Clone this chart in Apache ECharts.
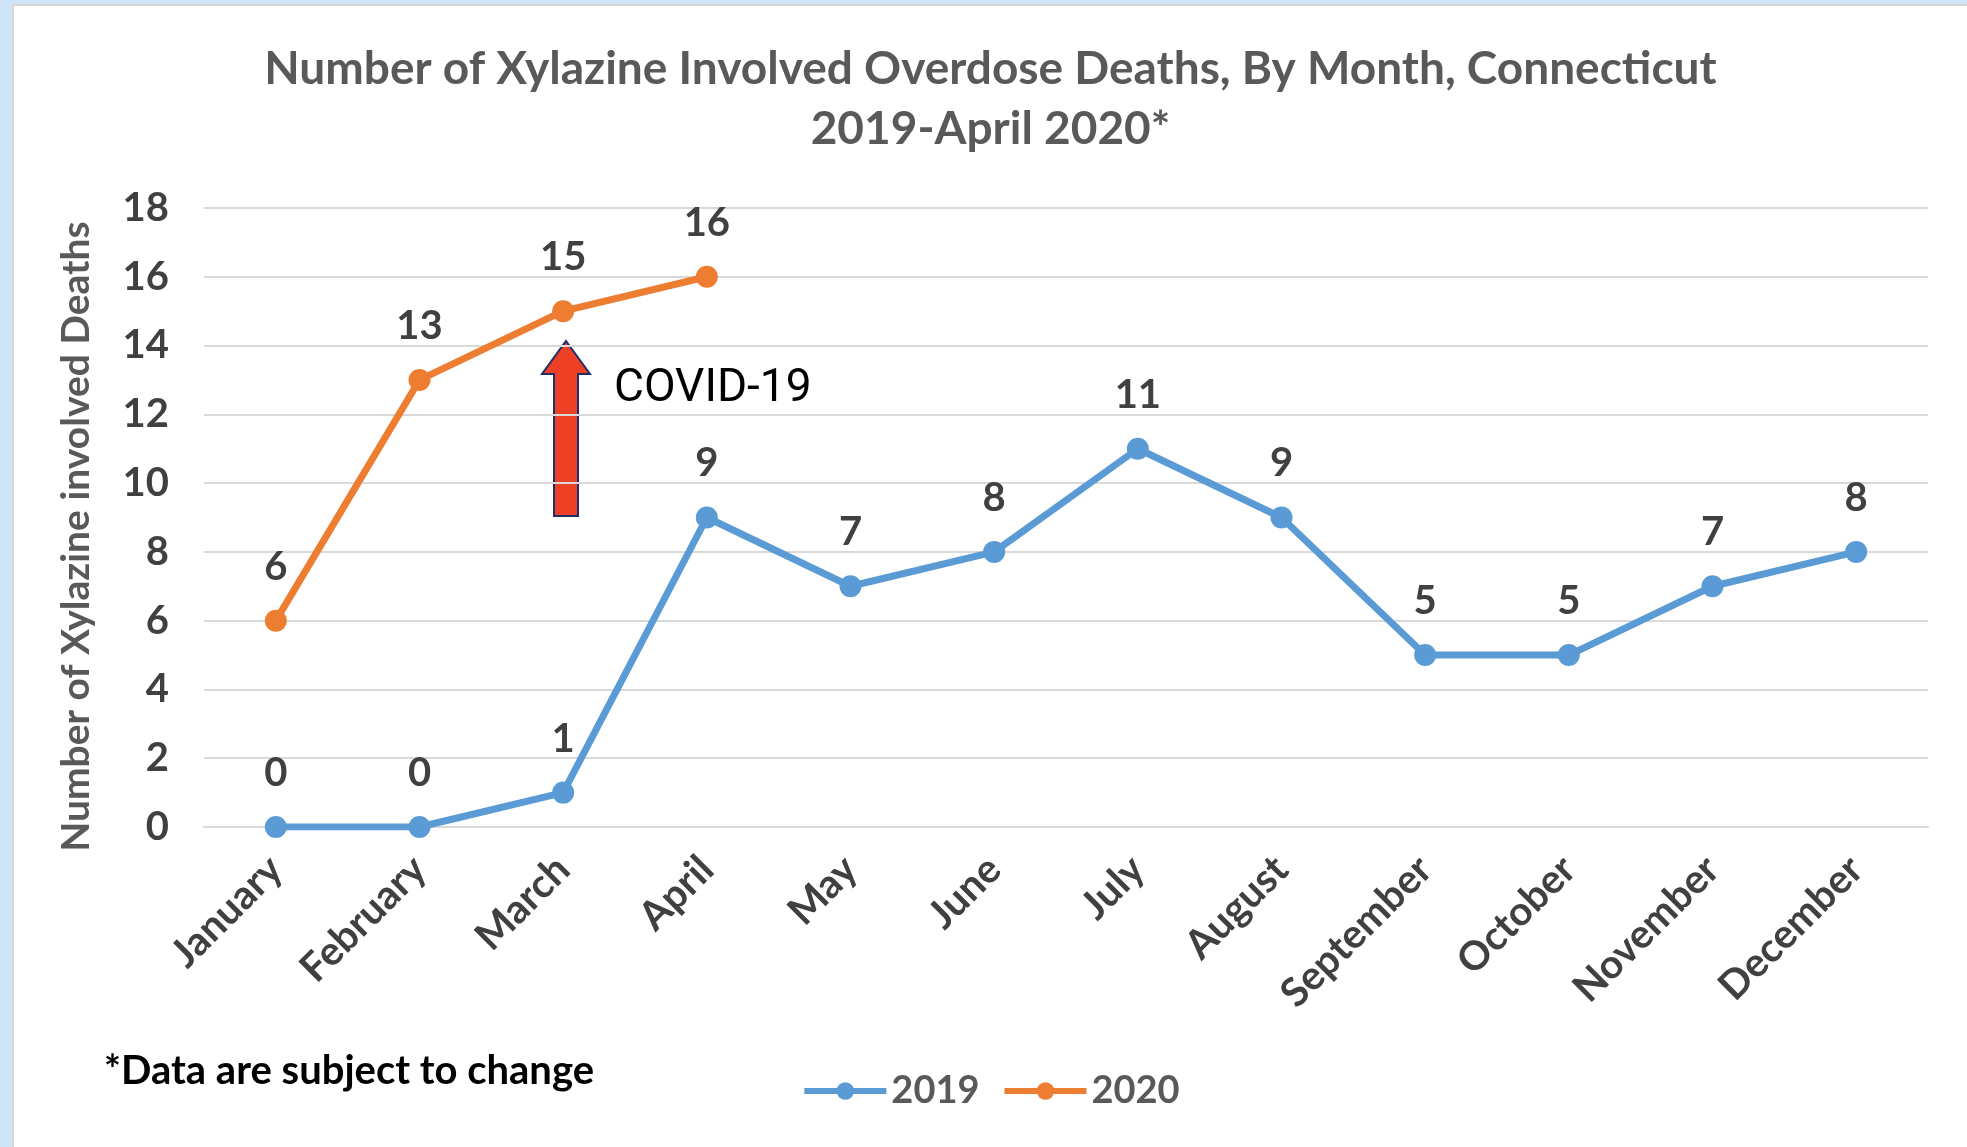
<!DOCTYPE html>
<html lang="en">
<head>
    <meta charset="UTF-8">
    <title>Xylazine</title>
    <script src="https://cdn.jsdelivr.net/npm/echarts@6/dist/echarts.min.js"></script>
    <style>
        body { margin: 0; background: #cfe5f7; }
        #main { position: absolute; left: 12px; top: 4px; width: 1955px; height: 1143px; background: #fff;
                border-left: 2px solid #d6d6d6; border-top: 2px solid #d6d6d6; box-sizing: border-box; }
    </style>
</head>
<body>
<div id="main"></div>
<script>
    var months = ['January', 'February', 'March', 'April', 'May', 'June', 'July',
        'August', 'September', 'October', 'November', 'December'];
    var deaths2019 = [0, 0, 1, 9, 7, 8, 11, 9, 5, 5, 7, 8];
    var deaths2020 = [6, 13, 15, 16];

    var myChart = echarts.init(document.getElementById('main'));

    var labelFont = {fontFamily: 'Lato', fontWeight: 'bold', fontSize: 40, color: '#404040'};

    // 箭头 (COVID-19), 坐标相对于 div
    var arrow = [[552, 335], [576, 368], [564, 368], [564, 510], [540, 510], [540, 368], [528, 368]];

    option = {
        textStyle: {fontFamily: 'Lato'},
        title: {
            text: 'Number of Xylazine Involved Overdose Deaths, By Month, Connecticut\n2019-April 2020*',
            left: 'center',
            top: 28,
            textStyle: {fontSize: 46, fontWeight: 'bold', color: '#595959', lineHeight: 60}
        },
        grid: {left: 190, right: 39, top: 202, bottom: 320},
        legend: {
            bottom: 32,
            left: 'center',
            itemWidth: 82,
            itemHeight: 22,
            itemGap: 22,
            lineStyle: {width: 6},
            textStyle: {fontSize: 38, color: '#595959', fontWeight: 'bold'},
            data: ['2019', '2020']
        },
        xAxis: {
            type: 'category',
            data: months,
            axisLine: {lineStyle: {color: '#d9d9d9', width: 2}},
            axisTick: {show: false},
            axisLabel: Object.assign({rotate: 45, margin: 36}, labelFont)
        },
        yAxis: {
            type: 'value',
            min: 0,
            max: 18,
            interval: 2,
            name: 'Number of Xylazine involved Deaths',
            nameLocation: 'middle',
            nameRotate: 90,
            nameGap: 108,
            nameTextStyle: {fontSize: 39, fontWeight: 'bold', color: '#595959', padding: [0, 38, 0, 0]},
            axisLabel: Object.assign({margin: 35}, labelFont),
            splitLine: {lineStyle: {color: '#d9d9d9', width: 2}}
        },
        series: [
            {
                name: '2019',
                type: 'line',
                data: deaths2019,
                symbol: 'circle',
                symbolSize: 22,
                lineStyle: {width: 7, color: '#5b9bd5'},
                itemStyle: {color: '#5b9bd5'},
                label: Object.assign({show: true, position: 'top', distance: 23}, labelFont)
            },
            {
                name: '2020',
                type: 'line',
                data: deaths2020,
                symbol: 'circle',
                symbolSize: 22,
                lineStyle: {width: 7, color: '#ed7d31'},
                itemStyle: {color: '#ed7d31'},
                label: Object.assign({show: true, position: 'top', distance: 23}, labelFont)
            }
        ],
        graphic: [
            {
                type: 'polygon',
                shape: {points: arrow},
                style: {fill: '#ee4025', stroke: '#1f2d6b', lineWidth: 2}
            },
            {
                type: 'text',
                left: 600,
                top: 360,
                style: {text: 'COVID-19', font: '46px Roboto', fill: '#000'}
            },
            {
                type: 'text',
                left: 90,
                top: 1045,
                style: {text: '*Data are subject to change', font: 'bold 40px Lato', fill: '#000'}
            }
        ]
    };

    myChart.setOption(option);
</script>
</body>
</html>
